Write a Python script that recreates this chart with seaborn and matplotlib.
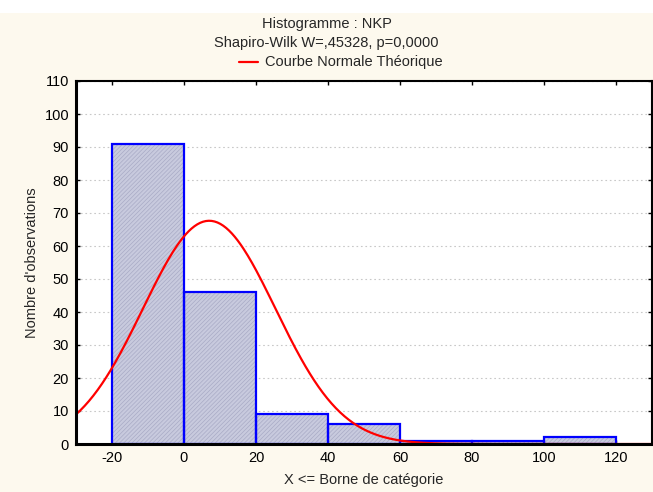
import numpy as np
import pandas as pd
import matplotlib
matplotlib.use("Agg")
import matplotlib.pyplot as plt
from matplotlib.lines import Line2D
import seaborn as sns

# Histogram of NKP: class boundaries and counts per class
bin_edges = [-20, 0, 20, 40, 60, 80, 100, 120]
counts = [91, 46, 9, 6, 1, 1, 2]

# Fitted normal curve parameters (expected counts per 20-wide class)
norm_mean = 7.0
norm_sd = 18.4
n_obs = sum(counts)
bin_width = 20

x_ticks = [-20, 0, 20, 40, 60, 80, 100, 120]
y_ticks = list(range(0, 111, 10))

title_lines = ["Histogramme : NKP", "Shapiro-Wilk W=,45328, p=0,0000"]
legend_label = "Courbe Normale Théorique"
x_label = "X <= Borne de catégorie"
y_label = "Nombre d'observations"

sns.set_theme(style="white")
plt.rcParams["font.family"] = ["Liberation Sans", "DejaVu Sans"]
plt.rcParams["hatch.linewidth"] = 0.5

bg = "#fdf9ee"
fig = plt.figure(figsize=(6.53, 4.92), dpi=100, facecolor=bg)
# white strip at the very top
fig.patches.append(plt.Rectangle((0, 1 - 13 / 492), 1, 13 / 492, transform=fig.transFigure,
                                 facecolor="white", edgecolor="none", zorder=-1))
ax = fig.add_axes([76 / 653, 1 - 444 / 492, (652 - 76) / 653, (444 - 81) / 492])
ax.set_facecolor("white")

df = pd.DataFrame({"left": bin_edges[:-1], "count": counts})

# finely hatched fill
sns.histplot(data=df, x="left", weights="count", bins=bin_edges, ax=ax,
             stat="count", element="bars", fill=True,
             facecolor="#c8cade", edgecolor="#a9abc6", linewidth=0,
             hatch="////////", alpha=1, zorder=2)
# blue outlines
sns.histplot(data=df, x="left", weights="count", bins=bin_edges, ax=ax,
             stat="count", element="bars", fill=False,
             color="#0000ff", linewidth=1.6, zorder=3)

xs = np.linspace(-30, 130, 400)
ys = n_obs * bin_width / (norm_sd * np.sqrt(2 * np.pi)) * np.exp(-0.5 * ((xs - norm_mean) / norm_sd) ** 2)
sns.lineplot(x=xs, y=ys, ax=ax, color="#ff0000", linewidth=1.6, zorder=4)

ax.set_xlim(-30, 130)
ax.set_ylim(0, 110)
ax.set_xticks(x_ticks)
ax.set_yticks(y_ticks)
ax.set_xticklabels([str(t) for t in x_ticks])
ax.set_yticklabels([str(t) for t in y_ticks])
ax.tick_params(axis="both", labelsize=10.5, colors="black", direction="in", length=3,
               width=1, top=True, right=True, bottom=True, left=True, pad=5)
ax.grid(axis="y", linestyle=(0, (1.5, 2.5)), color="#c8c8c8", linewidth=0.8, zorder=0)
ax.set_axisbelow(True)
for side, lw in [("left", 2.2), ("bottom", 2.2), ("top", 1.5), ("right", 1.5)]:
    ax.spines[side].set_visible(True)
    ax.spines[side].set_color("black")
    ax.spines[side].set_linewidth(lw)
    ax.spines[side].set_zorder(5)

ax.set_xlabel(x_label, fontsize=10.5, labelpad=5.5)
ax.set_ylabel(y_label, fontsize=10.5, labelpad=4)

fig.text(0.5, 1 - 24 / 492, title_lines[0], ha="center", va="center", fontsize=10.5)
fig.text(0.5, 1 - 43 / 492, title_lines[1], ha="center", va="center", fontsize=10.5)
fig.text(265 / 653, 1 - 62 / 492, legend_label, ha="left", va="center", fontsize=10.5)
fig.lines.append(Line2D([239 / 653, 258 / 653], [1 - 62 / 492, 1 - 62 / 492],
                        transform=fig.transFigure, color="#ff0000", linewidth=1.6))

fig.savefig("out.png", dpi=100, facecolor=bg)
